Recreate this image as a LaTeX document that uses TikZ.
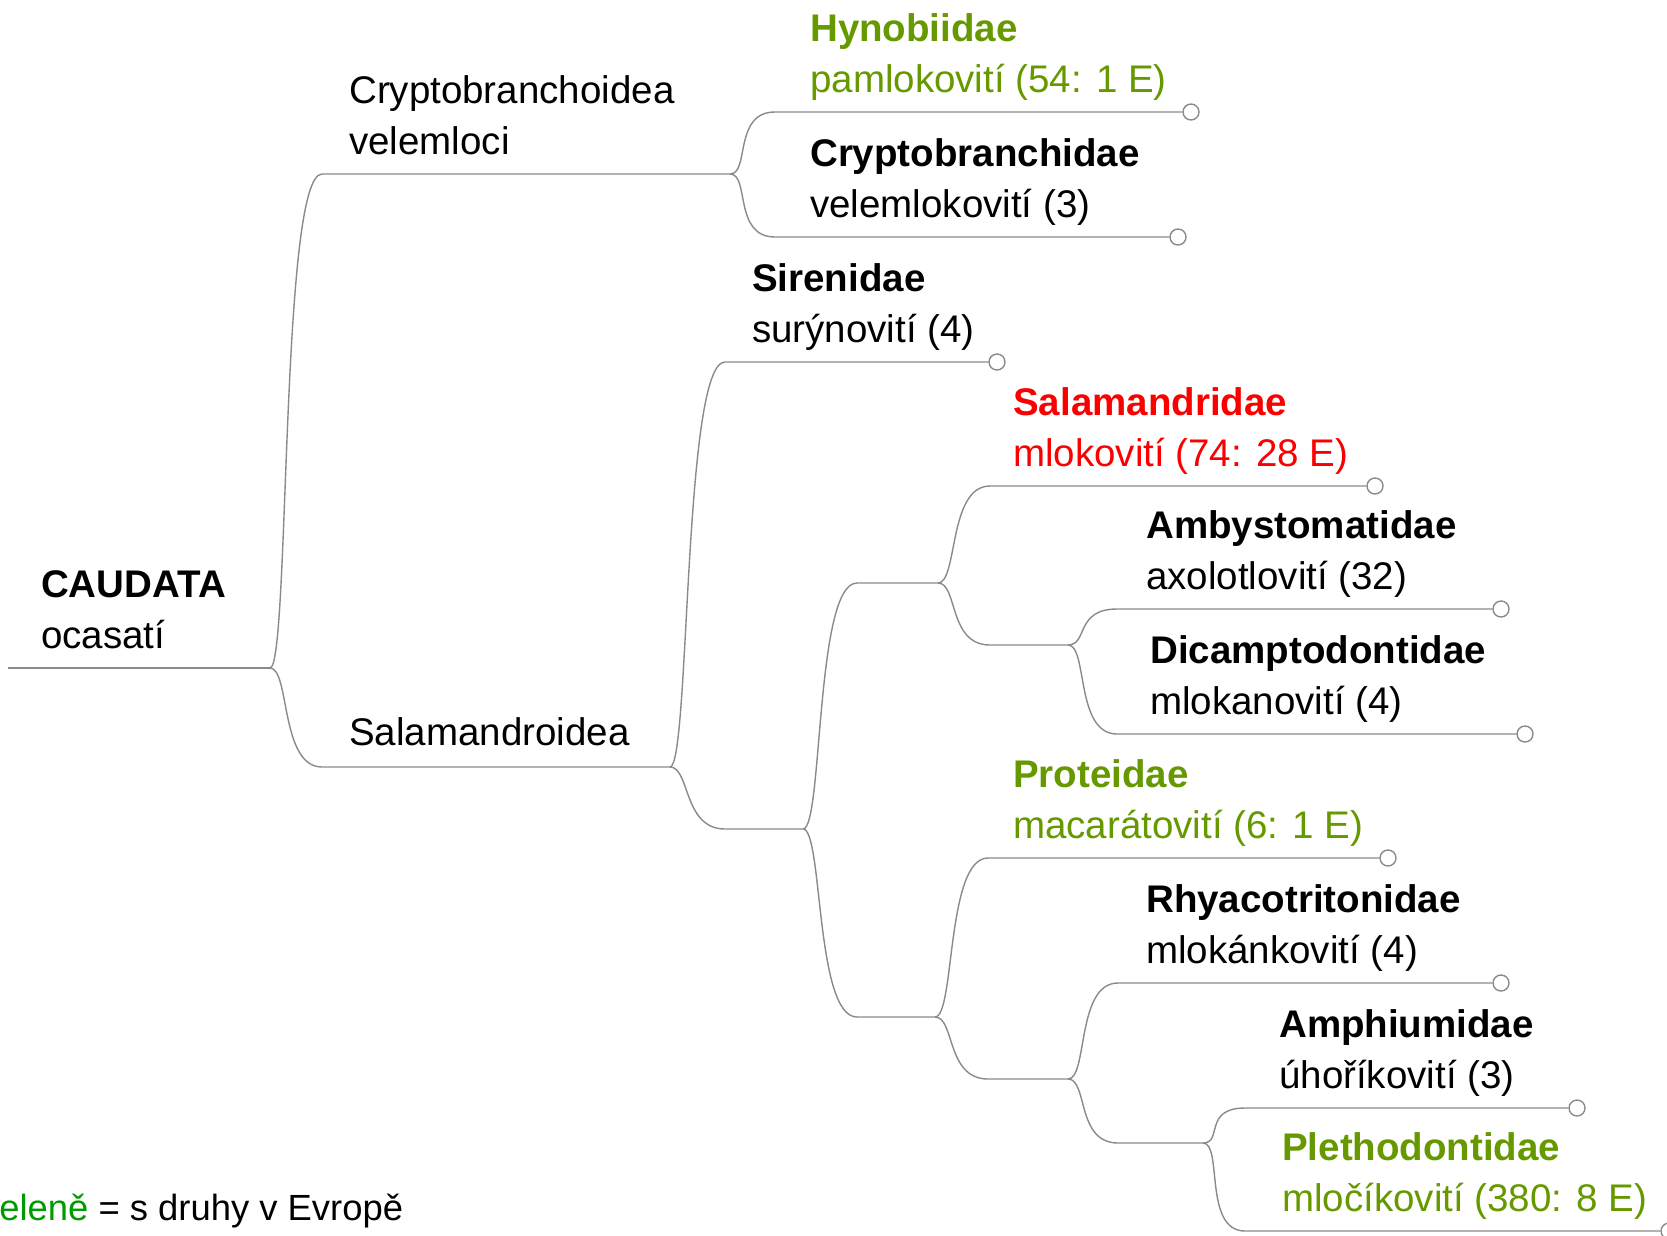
\documentclass[tikz,border=0pt]{standalone}
\usepackage{fontspec}
\setmainfont{Liberation Sans}
\usepackage{tikz}

\definecolor{eugreen}{RGB}{102,153,0}
\definecolor{eured}{RGB}{250,0,0}
\definecolor{legendgreen}{RGB}{0,155,0}
\definecolor{linegray}{RGB}{138,138,138}

\begin{document}
\begin{tikzpicture}[x=1pt,y=-1pt]
\tikzstyle{branch} = [draw=linegray, line width=1.4pt]
\tikzstyle{splitcurve} = [to path={.. controls +(20,0) and +(-42,0) .. (\tikztotarget)}]
\tikzstyle{tip} = [circle, draw=linegray, fill=white, line width=1.4pt, minimum size=16pt, inner sep=0pt]
\tikzstyle{taxon} = [anchor=base west, inner sep=0pt, font=\fontsize{38.5}{46}\selectfont\bfseries]
\tikzstyle{czname} = [anchor=base west, inner sep=0pt, font=\fontsize{38.5}{46}\selectfont]
\useasboundingbox (0,0) rectangle (1667,1235);

\coordinate (start) at (8,668);
\coordinate (jCaud) at (270,668);
\coordinate (jCryp) at (730,174);
\coordinate (jSala) at (670,767);
\coordinate (jRest) at (803,829);
\coordinate (jSalm) at (938,583);
\coordinate (jAmby) at (1068,645);
\coordinate (jProt) at (935,1017);
\coordinate (jRhya) at (1068,1079);
\coordinate (jAmph) at (1203,1143);

\coordinate (cryptoA) at (322,174);
\coordinate (salaA) at (322,767);
\coordinate (hynoA) at (775,112);
\coordinate (crybA) at (775,237);
\coordinate (sireA) at (725,362);
\coordinate (restA) at (725,829);
\coordinate (salmA) at (857,583);
\coordinate (protA) at (857,1017);
\coordinate (salfA) at (990,486);
\coordinate (ambjA) at (990,645);
\coordinate (ambyA) at (1117,609);
\coordinate (dicaA) at (1117,734);
\coordinate (protfA) at (988,858);
\coordinate (rhyjA) at (988,1079);
\coordinate (rhyaA) at (1118,983);
\coordinate (amphjA) at (1118,1143);
\coordinate (amphA) at (1245,1108);
\coordinate (pletA) at (1245,1231);

\node[tip] (hynoTip) at (1191,112) {};
\node[tip] (crybTip) at (1178,237) {};
\node[tip] (sireTip) at (997,362) {};
\node[tip] (salfTip) at (1375,486) {};
\node[tip] (ambyTip) at (1501,609) {};
\node[tip] (dicaTip) at (1525,734) {};
\node[tip] (protTip) at (1388,858) {};
\node[tip] (rhyaTip) at (1501,983) {};
\node[tip] (amphTip) at (1577,1108) {};
\node[tip] (pletTip) at (1669,1231) {};

\draw[branch] (start) -- (jCaud);
\draw[branch] (jCaud) to[splitcurve] (cryptoA) -- (jCryp);
\draw[branch] (jCaud) to[splitcurve] (salaA) -- (jSala);
\draw[branch] (jCryp) to[splitcurve] (hynoA) -- (hynoTip);
\draw[branch] (jCryp) to[splitcurve] (crybA) -- (crybTip);
\draw[branch] (jSala) to[splitcurve] (sireA) -- (sireTip);
\draw[branch] (jSala) to[splitcurve] (restA) -- (jRest);
\draw[branch] (jRest) to[splitcurve] (salmA) -- (jSalm);
\draw[branch] (jRest) to[splitcurve] (protA) -- (jProt);
\draw[branch] (jSalm) to[splitcurve] (salfA) -- (salfTip);
\draw[branch] (jSalm) to[splitcurve] (ambjA) -- (jAmby);
\draw[branch] (jAmby) to[splitcurve] (ambyA) -- (ambyTip);
\draw[branch] (jAmby) to[splitcurve] (dicaA) -- (dicaTip);
\draw[branch] (jProt) to[splitcurve] (protfA) -- (protTip);
\draw[branch] (jProt) to[splitcurve] (rhyjA) -- (jRhya);
\draw[branch] (jRhya) to[splitcurve] (rhyaA) -- (rhyaTip);
\draw[branch] (jRhya) to[splitcurve] (amphjA) -- (jAmph);
\draw[branch] (jAmph) to[splitcurve] (amphA) -- (amphTip);
\draw[branch] (jAmph) to[splitcurve] (pletA) -- (pletTip);

\node[taxon] (caud) at (41,597) {CAUDATA};
\node[czname] (caudCz) at (41,648) {ocasatí};
\node[czname] (cryp) at (349,103) {Cryptobranchoidea};
\node[czname] (crypCz) at (349,154) {velemloci};
\node[czname] (sala) at (349,745) {Salamandroidea};
\node[taxon, text=eugreen] (hyno) at (810,41) {Hynobiidae};
\node[czname, text=eugreen] (hynoCz) at (810,92) {pamlokovití (54: 1 E)};
\node[taxon] (cryb) at (810,166) {Cryptobranchidae};
\node[czname] (crybCz) at (810,217) {velemlokovití (3)};
\node[taxon] (sire) at (752,291) {Sirenidae};
\node[czname] (sireCz) at (752,342) {surýnovití (4)};
\node[taxon, text=eured] (salf) at (1013,415) {Salamandridae};
\node[czname, text=eured] (salfCz) at (1013,466) {mlokovití (74: 28 E)};
\node[taxon] (amby) at (1146,538) {Ambystomatidae};
\node[czname] (ambyCz) at (1146,589) {axolotlovití (32)};
\node[taxon] (dica) at (1150,663) {Dicamptodontidae};
\node[czname] (dicaCz) at (1150,714) {mlokanovití (4)};
\node[taxon, text=eugreen] (prot) at (1013,787) {Proteidae};
\node[czname, text=eugreen] (protCz) at (1013,838) {macarátovití (6: 1 E)};
\node[taxon] (rhya) at (1146,912) {Rhyacotritonidae};
\node[czname] (rhyaCz) at (1146,963) {mlokánkovití (4)};
\node[taxon] (amph) at (1279,1037) {Amphiumidae};
\node[czname] (amphCz) at (1279,1088) {úhoříkovití (3)};
\node[taxon, text=eugreen] (plet) at (1282,1160) {Plethodontidae};
\node[czname, text=eugreen] (pletCz) at (1282,1211) {mločíkovití (380: 8 E)};

\node[czname, font=\fontsize{36.4}{44}\selectfont] (legend) at (-19,1220) {\textcolor{legendgreen}{zeleně} = s druhy v Evropě};
\end{tikzpicture}
\end{document}
